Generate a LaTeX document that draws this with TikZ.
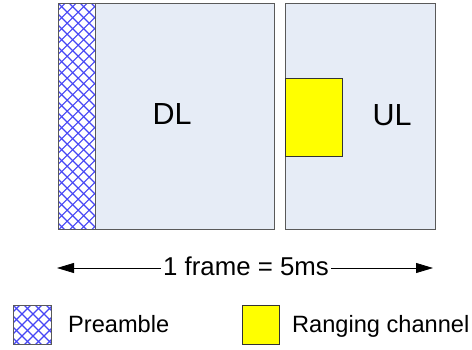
\documentclass[tikz,border=0pt]{standalone}
\usepackage{fontspec}
\setmainfont{Liberation Sans}
\usetikzlibrary{arrows.meta}
\definecolor{framefill}{RGB}{230,236,246}
\definecolor{hatchblue}{RGB}{70,70,245}
\definecolor{rangefill}{RGB}{255,255,0}
\tikzset{ %styles for the frame picture
  framebox/.style={draw=black!65, line width=1.3pt, fill=framefill, inner sep=0pt, anchor=north west},
  hatched/.style={draw=black!65, line width=1.3pt, fill=white, inner sep=0pt, anchor=north west,
    path picture={
      \foreach \k in {-286,-275,...,66} {
        \draw[hatchblue, line width=1.1pt] ([xshift=\k pt]path picture bounding box.north west) -- ++(300,300);
        \draw[hatchblue, line width=1.1pt] ([xshift=\k pt]path picture bounding box.south west) -- ++(300,-300);
      }
    }},
  rangebox/.style={draw=black!80, line width=1pt, fill=rangefill, inner sep=0pt, anchor=north west},
  biglabel/.style={font=\fontsize{30.5}{36}\selectfont, inner sep=0pt, anchor=base},
  legendtext/.style={font=\fontsize{23.6}{28}\selectfont, inner sep=0pt, anchor=base west}
}
\begin{document}
\begin{tikzpicture}[x=1pt, y=-1pt] % pixel grid, y grows downwards
\useasboundingbox (0,0) rectangle (472,349);

% downlink and uplink subframes
\node[framebox, minimum width=216pt, minimum height=226pt] (dl) at (58,3) {};
\node[hatched, minimum width=37pt, minimum height=226pt] (pre) at (58,3) {};
\node[framebox, minimum width=150pt, minimum height=226pt] (ul) at (285,3) {};
\node[rangebox, minimum width=57pt, minimum height=78pt] (rng) at (285,78) {};
\node[biglabel] (dltext) at (172,124) {DL};
\node[biglabel] (ultext) at (392,125) {UL};

% frame length
\node[font=\fontsize{25.8}{30}\selectfont, inner sep=2pt] (frame) at (246,266) {1 frame = 5ms};
\coordinate (fl) at (57,268);
\coordinate (fr) at (433,268);
\draw[line width=0.8pt, -{Triangle[length=17pt,width=10pt]}] (frame.west |- fl) -- (fl);
\draw[line width=0.8pt, -{Triangle[length=17pt,width=10pt]}] (frame.east |- fr) -- (fr);

% legend
\node[hatched, minimum width=38pt, minimum height=39pt, line width=1pt] (keypre) at (13,305) {};
\node[legendtext] (keypretext) at (68,332) {Preamble};
\node[rangebox, minimum width=37pt, minimum height=39pt] (keyrng) at (242,305) {};
\node[legendtext] (keyrngtext) at (292,332) {Ranging channel};
\end{tikzpicture}
\end{document}
